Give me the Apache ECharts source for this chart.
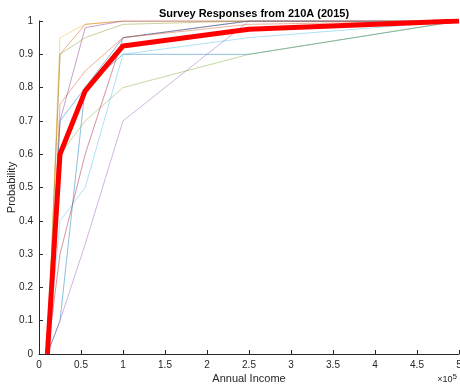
<!DOCTYPE html>
<html>
<head>
<meta charset="utf-8">
<script src="https://cdn.jsdelivr.net/npm/echarts@6/dist/echarts.min.js"></script>
<style>
  html, body { margin: 0; padding: 0; background: #fff; }
  #chart { width: 460px; height: 384px; }
</style>
</head>
<body>
<div id="chart"></div>
<script>
// income brackets (dollars), x values shared by every response
const income = [10000, 25000, 55000, 100000, 250000, 500000];

// individual survey responses (cumulative probability)
const respYellow   = [0, 0.95, 0.99, 1, 1, 1];
const respOlive    = [0, 0.90, 0.95, 0.99, 1, 1];
const respOrange1  = [0, 0.90, 0.99, 1, 1, 1];
const respOrange2  = [0, 0.75, 0.85, 0.95, 0.99, 1];
const respPurple   = [0, 0.70, 0.98, 1, 1, 1];
const respMaroon   = [0, 0.30, 0.60, 0.95, 1, 1];
const respBlue1    = [0, 0.10, 0.80, 0.90, 0.90, 1];
const respBlue2    = [0, 0.70, 0.80, 0.95, 1, 1];
const respCyan     = [0, 0.40, 0.50, 0.90, 0.95, 1];
const respLavender = [0, 0.10, 0.33, 0.70, 1, 1];
const respGreen    = [0, 0.60, 0.70, 0.80, 0.90, 1];

// class average
const meanResp = [0, 0.60, 0.79, 0.925, 0.975, 1];

const xTicks = [0, 0.5, 1, 1.5, 2, 2.5, 3, 3.5, 4, 4.5, 5];

const responses = [
    { data: respBlue1, color: '#0072BD' },
    { data: respOrange1, color: '#D95319' },
    { data: respYellow, color: '#EDB120' },
    { data: respPurple, color: '#7E2F8E' },
    { data: respGreen, color: '#77AC30' },
    { data: respCyan, color: '#4DBEEE' },
    { data: respMaroon, color: '#A2142F' },
    { data: respBlue2, color: '#0072BD' },
    { data: respOrange2, color: '#D95319' },
    { data: respOlive, color: '#8A9A20' },
    { data: respLavender, color: '#9B59B6' },
];

const pair = vals => income.map((x, i) => [x, vals[i]]);
const font = 'Liberation Sans, Arial, sans-serif';
const ink = '#262626';

const chart = echarts.init(document.getElementById('chart'));
chart.setOption({
    animation: false,
    title: {
        text: 'Survey Responses from 210A (2015)',
        left: 249,
        textAlign: 'center',
        top: 3,
        textStyle: { fontFamily: font, fontSize: 11, fontWeight: 'bold', color: '#000' },
    },
    grid: { left: 39, right: 1, top: 21, bottom: 30, containLabel: false, outerBoundsMode: 'none' },
    xAxis: {
        type: 'value',
        min: 0,
        max: 500000,
        interval: 50000,
        name: 'Annual Income',
        nameLocation: 'middle',
        nameGap: 19,
        nameMoveOverlap: false,
        nameTextStyle: { fontFamily: font, fontSize: 11, color: ink },
        axisLine: { lineStyle: { color: ink, width: 1 } },
        axisTick: { inside: true, length: 4, lineStyle: { color: ink } },
        axisLabel: {
            fontFamily: font, fontSize: 10, color: ink, margin: 6,
            formatter: v => String(xTicks[Math.round(v / 50000)]),
        },
        splitLine: { show: false },
    },
    yAxis: {
        type: 'value',
        min: 0,
        max: 1,
        interval: 0.1,
        name: 'Probability',
        nameLocation: 'middle',
        nameGap: 22,
        nameMoveOverlap: false,
        nameTextStyle: { fontFamily: font, fontSize: 11, color: ink },
        axisLine: { show: true, lineStyle: { color: ink, width: 1 } },
        axisTick: { show: true, inside: true, length: 4, lineStyle: { color: ink } },
        axisLabel: {
            fontFamily: font, fontSize: 10, color: ink, margin: 6,
            formatter: v => String(Math.round(v * 10) / 10),
        },
        splitLine: { show: false },
    },
    graphic: [{
        type: 'text',
        right: 3,
        bottom: 0,
        style: {
            text: '×10{s|5}',
            font: '9px ' + font,
            fill: ink,
            rich: { s: { fontSize: 8, verticalAlign: 'top', padding: [0, 0, 6, 0] } },
        },
    }],
    series: responses.map(r => ({
        type: 'line',
        data: pair(r.data),
        showSymbol: false,
        lineStyle: { color: r.color, width: 1, opacity: 0.45 },
        z: 2,
    })).concat([{
        type: 'line',
        data: pair(meanResp),
        showSymbol: false,
        lineStyle: { color: '#FF0000', width: 5 },
        z: 5,
    }]),
});
</script>
</body>
</html>
